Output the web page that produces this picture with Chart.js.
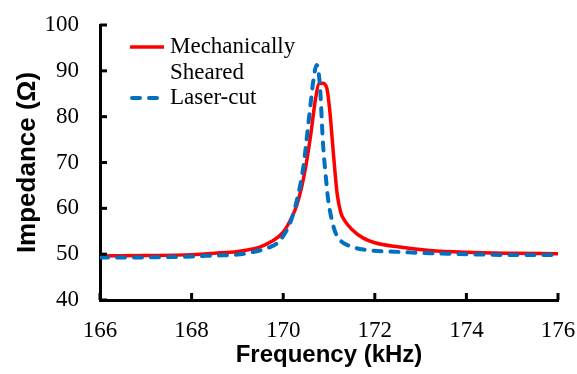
<!DOCTYPE html>
<html>
<head>
<meta charset="utf-8">
<script src="https://cdn.jsdelivr.net/npm/chart.js@4/dist/chart.umd.min.js"></script>
<style>
  html, body { margin: 0; padding: 0; background: #fff; }
  #wrap { width: 577px; height: 374px; }
</style>
</head>
<body>
<div id="wrap"><canvas id="impedanceChart" width="577" height="374"></canvas></div>
<script>
// Impedance vs frequency — two cutting methods

const xTicks = [166, 168, 170, 172, 174, 176];
const yTicks = [40, 50, 60, 70, 80, 90, 100];

const shearedFreq = [166, 167, 168, 168.5, 169, 169.5, 169.75, 170.0, 170.2, 170.3, 170.4, 170.5, 170.6, 170.7, 170.78,
  170.86, 170.95, 171.02, 171.1, 171.18, 171.26, 171.35, 171.5, 171.75, 172.0, 172.5, 173.2, 174, 175, 176];
const shearedImp = [49.6, 49.7, 49.9, 50.2, 50.6, 51.6, 52.8, 54.8, 58.3, 60.8, 64.5, 69.5, 76, 83.5, 87.2,
  87.3, 86.3, 81, 71.5, 63, 59, 57.2, 55.4, 53.5, 52.5, 51.6, 50.8, 50.4, 50.2, 50.1];

const laserFreq = [166, 167, 168, 168.5, 169, 169.3, 169.7, 169.9, 170.15, 170.3, 170.44, 170.5, 170.6, 170.66, 170.73,
  170.8, 170.87, 170.93, 170.98, 171.05, 171.13, 171.25, 171.4, 171.75, 172.5, 173.2, 174, 175, 176];
const laserImp = [49.3, 49.3, 49.5, 49.7, 49.9, 50.4, 51.5, 52.7, 56.8, 61.8, 69, 74, 83, 88, 91.3,
  87, 74, 67, 62, 58, 55, 53, 52, 51, 50.5, 50.2, 50, 49.8, 49.8];

const seriesLabels = ['Mechanically Sheared', 'Laser-cut'];

const toPoints = (xs, ys) => xs.map((x, i) => ({ x, y: ys[i] }));

// ─── Inward tick marks ───────────────────────────────────────────────────────
const innerTicks = {
  id: 'innerTicks',
  afterDraw(chart) {
    const { ctx, chartArea, scales } = chart;
    ctx.save();
    ctx.strokeStyle = '#000';
    ctx.lineWidth = 3;
    xTicks.forEach(v => {
      const px = scales.x.getPixelForValue(v);
      ctx.beginPath();
      ctx.moveTo(px, chartArea.bottom);
      ctx.lineTo(px, chartArea.bottom - 7);
      ctx.stroke();
    });
    yTicks.forEach(v => {
      const py = scales.y.getPixelForValue(v);
      ctx.beginPath();
      ctx.moveTo(chartArea.left, py);
      ctx.lineTo(chartArea.left + 7, py);
      ctx.stroke();
    });
    ctx.restore();
  },
};

// ─── Legend inside the plot (wraps long labels) ─────────────────────────────
const insideLegend = {
  id: 'insideLegend',
  afterDraw(chart) {
    const { ctx } = chart;
    const x0 = 130, sample = 34, textX = 170, maxW = 135, lineH = 25.5;
    let y = 47;
    ctx.save();
    ctx.font = '23px "Liberation Serif", "Times New Roman", serif';
    ctx.textBaseline = 'middle';
    ctx.fillStyle = '#000';
    chart.data.datasets.forEach(ds => {
      ctx.save();
      ctx.strokeStyle = ds.borderColor;
      ctx.lineWidth = ds.borderWidth;
      ctx.lineCap = ds.borderCapStyle || 'butt';
      ctx.setLineDash(ds.borderDash || []);
      ctx.beginPath();
      ctx.moveTo(x0 + (ds.borderDash ? 2 : 0), y);
      ctx.lineTo(x0 + sample, y);
      ctx.stroke();
      ctx.restore();
      const words = ds.label.split(' ');
      let line = '';
      const lines = [];
      words.forEach(w => {
        const test = line ? line + ' ' + w : w;
        if (ctx.measureText(test).width > maxW && line) { lines.push(line); line = w; }
        else line = test;
      });
      lines.push(line);
      lines.forEach((l, i) => ctx.fillText(l, textX, y + i * lineH));
      y += lines.length * lineH;
    });
    ctx.restore();
  },
};

new Chart(document.getElementById('impedanceChart'), {
  type: 'line',
  data: {
    datasets: [
      {
        label: seriesLabels[0],
        data: toPoints(shearedFreq, shearedImp),
        borderColor: '#FF0000',
        borderWidth: 3.5,
        pointRadius: 0,
        cubicInterpolationMode: 'monotone',
        order: 2,
      },
      {
        label: seriesLabels[1],
        data: toPoints(laserFreq, laserImp),
        borderColor: '#0070C0',
        borderWidth: 4,
        borderDash: [8, 9],
        borderCapStyle: 'round',
        pointRadius: 0,
        cubicInterpolationMode: 'monotone',
        order: 1,
      },
    ],
  },
  options: {
    responsive: false,
    animation: false,
    layout: { padding: { top: 25, right: 19, left: 0, bottom: 0 } },
    plugins: { legend: { display: false }, tooltip: { enabled: false } },
    scales: {
      x: {
        type: 'linear',
        min: 166,
        max: 176,
        afterBuildTicks: s => { s.ticks = xTicks.map(v => ({ value: v })); },
        afterFit: s => { s.height = 74; s.paddingLeft = 0; s.paddingRight = 0; },
        grid: { drawOnChartArea: false, drawTicks: false },
        border: { color: '#000', width: 3 },
        ticks: { color: '#000', padding: 17, maxRotation: 0, font: { family: '"Liberation Serif", serif', size: 23 } },
        title: {
          display: true,
          text: 'Frequency (kHz)',
          color: '#000',
          padding: { top: 0, bottom: 4 },
          font: { family: '"Liberation Sans", Arial, sans-serif', size: 24, weight: 'bold' },
        },
      },
      y: {
        min: 40,
        max: 100,
        afterBuildTicks: s => { s.ticks = yTicks.map(v => ({ value: v })); },
        afterFit: s => { s.width = 100; s.paddingTop = 0; s.paddingBottom = 0; },
        grid: { drawOnChartArea: false, drawTicks: false },
        border: { color: '#000', width: 3 },
        ticks: { color: '#000', padding: 21, font: { family: '"Liberation Serif", serif', size: 23 } },
        title: {
          display: true,
          text: 'Impedance (Ω)',
          color: '#000',
          padding: { top: 12, bottom: 0 },
          font: { family: '"Liberation Sans", Arial, sans-serif', size: 26, weight: 'bold' },
        },
      },
    },
  },
  plugins: [innerTicks, insideLegend],
});
</script>
</body>
</html>
